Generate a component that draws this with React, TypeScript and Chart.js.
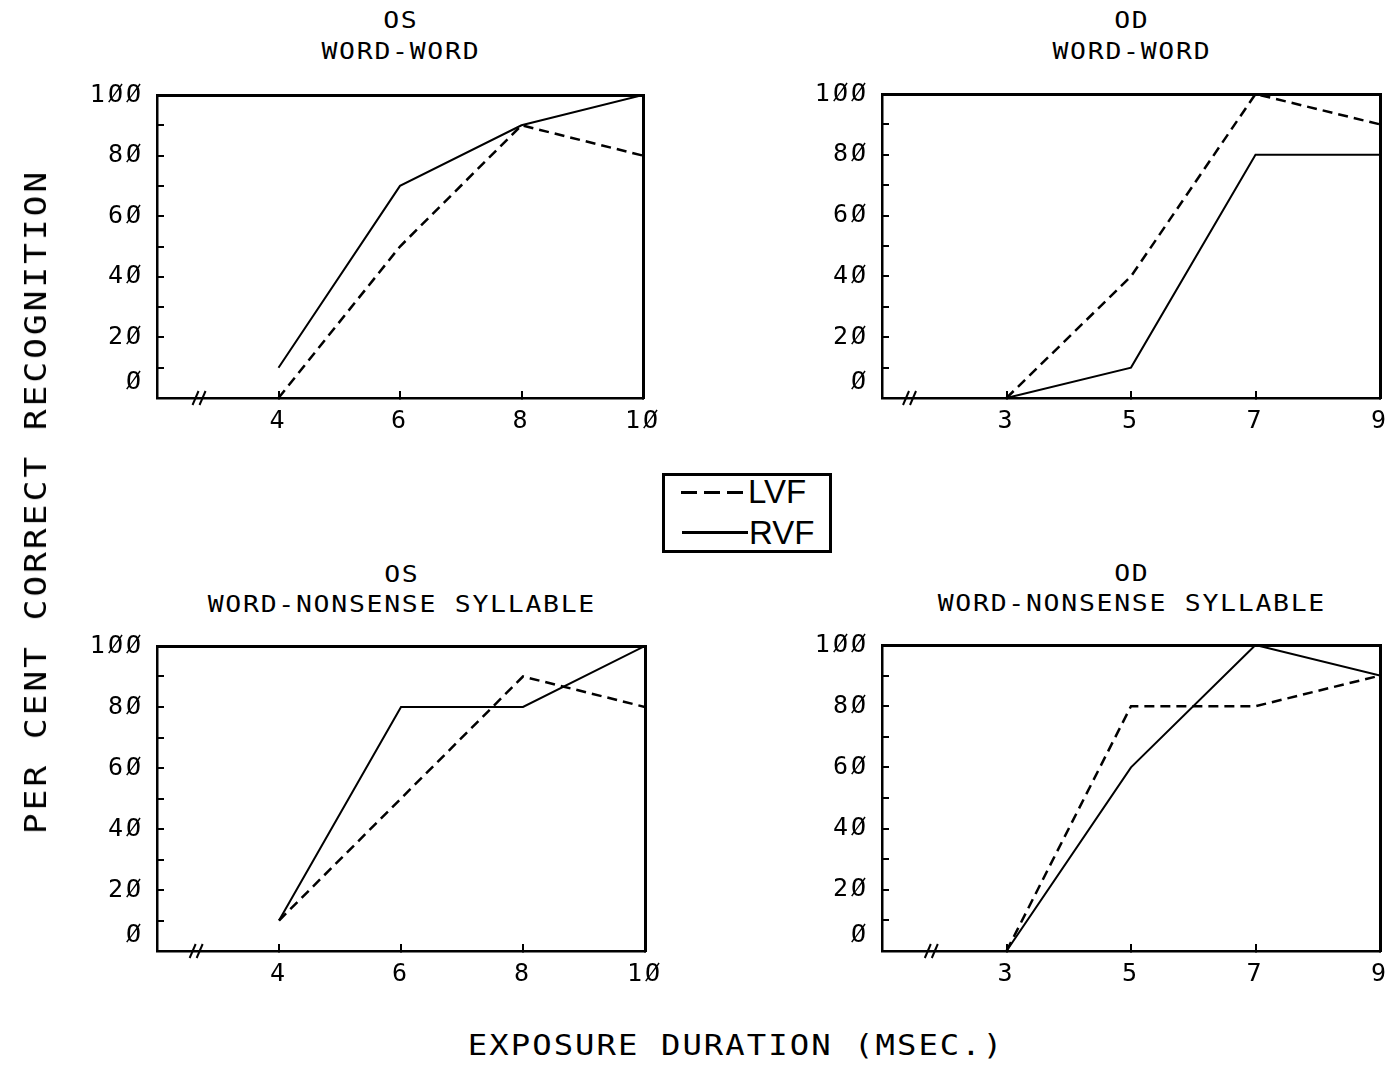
import React, { useEffect, useRef } from 'react';
import { Chart, registerables } from 'chart.js';

Chart.register(...registerables);

// ---------- data ----------
const OS_X = [4, 6, 8, 10];
const OD_X = [3, 5, 7, 9];
const OS_X_TICKS = [4, 6, 8, 10];
const OD_X_TICKS = [3, 5, 7, 9];

const OS_WORD_WORD_LVF = [0, 50, 90, 80];
const OS_WORD_WORD_RVF = [10, 70, 90, 100];
const OD_WORD_WORD_LVF = [0, 40, 100, 90];
const OD_WORD_WORD_RVF = [0, 10, 80, 80];
const OS_WORD_NONSENSE_LVF = [10, 50, 90, 80];
const OS_WORD_NONSENSE_RVF = [10, 80, 80, 100];
const OD_WORD_NONSENSE_LVF = [0, 80, 80, 90];
const OD_WORD_NONSENSE_RVF = [0, 60, 100, 90];

const Y_MIN = 0;
const Y_MAX = 100;
const Y_STEP = 10;
const Y_LABEL_STEP = 20;

const SERIES_NAMES = ['LVF', 'RVF'];
const Y_TITLE = 'PER CENT CORRECT RECOGNITION';
const X_TITLE = 'EXPOSURE DURATION (MSEC.)';

// ---------- styling ----------
const MONO = '"DejaVu Sans Mono", monospace';
const SANS = '"Liberation Sans", Arial, sans-serif';
const TICK_FONT_SIZE = 25;
const TICK_SPACING = 3;
const ZERO_LABEL_LIFT = 5; // the plotter printed its zero label a little above the axis

const fmt = (v: number) => String(v).replace(/0/g, '\u00D8');

const PAD_L = 110;
const PAD_T = 25;
const PAD_R = 25;
const PAD_B = 55;
const TICK_LEN = -7;
const Y_LABEL_PAD = 20;

const extrasPlugin = {
  id: 'extras',
  beforeDraw(c: any) {
    c.ctx.letterSpacing = TICK_SPACING + 'px';
  },
  afterDraw(c: any, _args: any, opts: any) {
    const ctx = c.ctx;
    const x = c.scales.x;
    const y = c.scales.y;
    ctx.save();
    ctx.letterSpacing = TICK_SPACING + 'px';
    ctx.font = `${TICK_FONT_SIZE}px ${MONO}`;
    ctx.fillStyle = '#000';
    ctx.textAlign = 'right';
    ctx.textBaseline = 'middle';
    ctx.fillText(fmt(0), c.chartArea.left - (TICK_LEN + Y_LABEL_PAD), y.getPixelForValue(Y_MIN + ZERO_LABEL_LIFT));
    // axis break marker
    const bx = x.getPixelForValue(opts.breakAt);
    const by = y.getPixelForValue(Y_MIN);
    ctx.letterSpacing = '0px';
    ctx.strokeStyle = '#000';
    ctx.lineWidth = 2;
    for (const dx of [-4, 3]) {
      ctx.beginPath();
      ctx.moveTo(bx + dx - 3, by + 7);
      ctx.lineTo(bx + dx + 3, by - 7);
      ctx.stroke();
    }
    ctx.restore();
    ctx.letterSpacing = '0px';
  },
};

type Box = { left: number; top: number; width: number; height: number };

function Panel(props: {
  box: Box;
  xMin: number;
  xMax: number;
  xs: number[];
  xTicks: number[];
  lvf: number[];
  rvf: number[];
  breakAt: number;
}) {
  const ref = useRef<HTMLCanvasElement>(null);
  const { box, xMin, xMax, xs, xTicks, lvf, rvf, breakAt } = props;
  const W = box.width + PAD_L + PAD_R;
  const H = box.height + PAD_T + PAD_B;

  useEffect(() => {
    if (!ref.current) return;
    const tickFont = { family: MONO, size: TICK_FONT_SIZE };
    const gridOpts = {
      drawOnChartArea: false,
      drawTicks: true,
      tickLength: TICK_LEN,
      color: '#000',
      lineWidth: 2,
    };
    const chart = new Chart(ref.current, {
      type: 'line',
      data: {
        datasets: [
          {
            label: SERIES_NAMES[0],
            data: xs.map((x, i) => ({ x, y: lvf[i] })),
            borderColor: '#000',
            borderWidth: 2.5,
            borderDash: [10, 6],
            pointRadius: 0,
            tension: 0,
            fill: false,
          },
          {
            label: SERIES_NAMES[1],
            data: xs.map((x, i) => ({ x, y: rvf[i] })),
            borderColor: '#000',
            borderWidth: 2,
            pointRadius: 0,
            tension: 0,
            fill: false,
          },
        ],
      },
      options: {
        animation: false,
        responsive: false,
        maintainAspectRatio: false,
        layout: { padding: { left: 0, top: PAD_T, right: PAD_R, bottom: 0 } },
        plugins: {
          legend: { display: false },
          tooltip: { enabled: false },
          extras: { breakAt },
        } as any,
        scales: {
          x: {
            type: 'linear',
            position: 'bottom',
            min: xMin,
            max: xMax,
            afterBuildTicks: (s: any) => {
              s.ticks = xTicks.map((v) => ({ value: v }));
            },
            afterFit: (s: any) => {
              s.height = PAD_B;
              s.paddingLeft = 0;
              s.paddingRight = 0;
            },
            ticks: {
              callback: (v: any) => fmt(Number(v)),
              font: tickFont,
              color: '#000',
              padding: 15,
              maxRotation: 0,
              autoSkip: false,
            },
            grid: gridOpts,
            border: { display: true, color: '#000', width: 2.5 },
          },
          y: {
            type: 'linear',
            position: 'left',
            min: Y_MIN,
            max: Y_MAX,
            afterFit: (s: any) => {
              s.width = PAD_L;
              s.paddingTop = 0;
              s.paddingBottom = 0;
            },
            ticks: {
              stepSize: Y_STEP,
              callback: (v: any) => {
                const n = Number(v);
                return n !== Y_MIN && n % Y_LABEL_STEP === 0 ? fmt(n) : '';
              },
              font: tickFont,
              color: '#000',
              padding: Y_LABEL_PAD,
              autoSkip: false,
            },
            grid: gridOpts,
            border: { display: true, color: '#000', width: 2.5 },
          },
          xTop: {
            type: 'linear',
            position: 'top',
            min: xMin,
            max: xMax,
            afterFit: (s: any) => {
              s.height = 0;
              s.paddingLeft = 0;
              s.paddingRight = 0;
            },
            ticks: { display: false },
            grid: { display: false, drawTicks: false },
            border: { display: true, color: '#000', width: 3 },
          },
          yRight: {
            type: 'linear',
            position: 'right',
            min: Y_MIN,
            max: Y_MAX,
            afterFit: (s: any) => {
              s.width = 0;
              s.paddingTop = 0;
              s.paddingBottom = 0;
            },
            ticks: { display: false },
            grid: { display: false, drawTicks: false },
            border: { display: true, color: '#000', width: 3 },
          },
        } as any,
      },
      plugins: [extrasPlugin as any],
    });
    return () => chart.destroy();
  }, []);

  return (
    <canvas
      ref={ref}
      width={W}
      height={H}
      style={{
        position: 'absolute',
        left: box.left - PAD_L,
        top: box.top - PAD_T,
        width: W,
        height: H,
      }}
    />
  );
}

function Label(props: {
  text: string;
  x: number;
  y: number;
  size: number;
  spacing?: number;
  stretch?: number;
  family?: string;
  rotate?: boolean;
  anchor?: 'center' | 'left';
}) {
  const { text, x, y, size, spacing = 0, stretch = 1, family = MONO, rotate, anchor = 'center' } = props;
  const tx = anchor === 'center' ? '-50%' : '0';
  return (
    <div
      style={{
        position: 'absolute',
        left: x,
        top: y,
        transform: `translate(${tx}, -50%)${rotate ? ' rotate(-90deg)' : ''}${stretch !== 1 ? ` scaleX(${stretch})` : ''}`,
        fontFamily: family,
        fontSize: size,
        lineHeight: 1,
        letterSpacing: spacing,
        paddingLeft: anchor === 'center' ? spacing : 0,
        whiteSpace: 'nowrap',
        color: '#000',
      }}
    >
      {text}
    </div>
  );
}

const TITLE_SIZE = 23;
const TITLE_SPACING = 1.5;
const STRETCH = 1.15;

export default function App() {
  const panels = [
    {
      box: { left: 157, top: 95, width: 486, height: 303 },
      xMin: 2, xMax: 10, xs: OS_X, xTicks: OS_X_TICKS,
      lvf: OS_WORD_WORD_LVF, rvf: OS_WORD_WORD_RVF, breakAt: 2.7,
      t1: 'OS', t2: 'WORD-WORD', t1y: 20, t2y: 51,
    },
    {
      box: { left: 882, top: 94, width: 498, height: 304 },
      xMin: 1, xMax: 9, xs: OD_X, xTicks: OD_X_TICKS,
      lvf: OD_WORD_WORD_LVF, rvf: OD_WORD_WORD_RVF, breakAt: 1.45,
      t1: 'OD', t2: 'WORD-WORD', t1y: 20, t2y: 51,
    },
    {
      box: { left: 157, top: 646, width: 488, height: 305 },
      xMin: 2, xMax: 10, xs: OS_X, xTicks: OS_X_TICKS,
      lvf: OS_WORD_NONSENSE_LVF, rvf: OS_WORD_NONSENSE_RVF, breakAt: 2.65,
      t1: 'OS', t2: 'WORD-NONSENSE SYLLABLE', t1y: 574, t2y: 604,
    },
    {
      box: { left: 882, top: 645, width: 498, height: 306 },
      xMin: 1, xMax: 9, xs: OD_X, xTicks: OD_X_TICKS,
      lvf: OD_WORD_NONSENSE_LVF, rvf: OD_WORD_NONSENSE_RVF, breakAt: 1.8,
      t1: 'OD', t2: 'WORD-NONSENSE SYLLABLE', t1y: 573, t2y: 603,
    },
  ];

  return (
    <div
      style={{
        position: 'absolute',
        left: 0,
        top: 0,
        width: 1387,
        height: 1074,
        background: '#fff',
        overflow: 'hidden',
      }}
    >
      {panels.map((p, i) => (
        <React.Fragment key={i}>
          <Panel
            box={p.box}
            xMin={p.xMin}
            xMax={p.xMax}
            xs={p.xs}
            xTicks={p.xTicks}
            lvf={p.lvf}
            rvf={p.rvf}
            breakAt={p.breakAt}
          />
          <Label text={p.t1} x={p.box.left + p.box.width / 2} y={p.t1y} size={TITLE_SIZE} spacing={TITLE_SPACING} stretch={STRETCH} />
          <Label text={p.t2} x={p.box.left + p.box.width / 2} y={p.t2y} size={TITLE_SIZE} spacing={TITLE_SPACING} stretch={STRETCH} />
        </React.Fragment>
      ))}

      <Label text={Y_TITLE} x={36} y={503} size={30} spacing={2.6} stretch={STRETCH} rotate />
      <Label text={X_TITLE} x={735} y={1046} size={28} spacing={1.8} stretch={STRETCH} />

      {/* legend */}
      <div
        style={{
          position: 'absolute',
          left: 662,
          top: 473,
          width: 170,
          height: 80,
          boxSizing: 'border-box',
          border: '3px solid #000',
          background: '#fff',
        }}
      />
      {[681, 704, 727].map((lx) => (
        <div
          key={lx}
          style={{ position: 'absolute', left: lx, top: 491, width: 16, height: 3, background: '#000' }}
        />
      ))}
      <div style={{ position: 'absolute', left: 682, top: 531, width: 66, height: 3, background: '#000' }} />
      <Label text={SERIES_NAMES[0]} x={748} y={491} size={33} family={SANS} anchor="left" />
      <Label text={SERIES_NAMES[1]} x={749} y={532} size={33} family={SANS} anchor="left" />
    </div>
  );
}
